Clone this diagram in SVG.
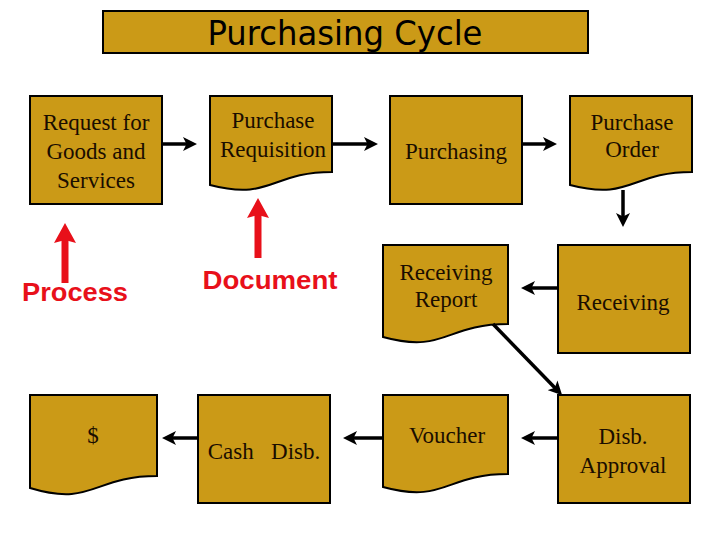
<svg xmlns="http://www.w3.org/2000/svg" width="720" height="540" viewBox="0 0 720 540">
<style>
.box{fill:#CB9A17;stroke:#000;stroke-width:2}
.t{font-family:"Liberation Serif","Times New Roman",serif;font-size:23px;fill:#1a0d00;text-anchor:middle}
.title{font-family:"DejaVu Sans Condensed","DejaVu Sans",sans-serif;font-size:33px;fill:#000;text-anchor:middle}
.red{font-family:"Liberation Sans",Arial,sans-serif;font-weight:bold;font-size:25px;fill:#E8101A;text-anchor:middle}
.con{stroke:#000;stroke-width:3.5;fill:none;marker-end:url(#ah)}
.rcon{stroke:#E8101A;stroke-width:7;fill:none;marker-end:url(#rh)}
</style>
<defs>
<marker id="ah" markerUnits="userSpaceOnUse" viewBox="0 0 14 14" refX="8" refY="7" markerWidth="14" markerHeight="14" orient="auto">
<path d="M0,0 L14,7 L0,14 L3.5,7 Z" fill="#000"/>
</marker>
<marker id="rh" markerUnits="userSpaceOnUse" viewBox="0 0 20 22" refX="6" refY="11" markerWidth="20" markerHeight="22" orient="auto">
<path d="M0,0 L20,11 L0,22 L3,11 Z" fill="#E8101A"/>
</marker>
</defs>
<rect width="720" height="540" fill="#fff"/>
<g id="title">
<rect class="box" x="103" y="11" width="485" height="42"/>
<text class="title" x="345" y="45" textLength="275" lengthAdjust="spacingAndGlyphs">Purchasing Cycle</text>
</g>
<g id="request">
<rect class="box" x="30" y="96" width="132" height="108"/>
<text class="t" x="96" y="130">Request for</text>
<text class="t" x="96" y="159">Goods and</text>
<text class="t" x="96" y="188">Services</text>
</g>
<g id="requisition">
<path class="box" d="M210,96 H332 V172 C271,172 271,201 210,185 Z"/>
<text class="t" x="273" y="128">Purchase</text>
<text class="t" x="273" y="157">Requisition</text>
</g>
<g id="purchasing">
<rect class="box" x="390" y="96" width="132" height="108"/>
<text class="t" x="456" y="159">Purchasing</text>
</g>
<g id="po">
<path class="box" d="M570,96 H692 V172 C631,172 631,201 570,185 Z"/>
<text class="t" x="632" y="130">Purchase</text>
<text class="t" x="632" y="157">Order</text>
</g>
<g id="process-label">
<text class="red" x="75" y="301" textLength="106" lengthAdjust="spacingAndGlyphs">Process</text>
</g>
<g id="document-label">
<text class="red" x="270" y="289" textLength="135" lengthAdjust="spacingAndGlyphs">Document</text>
</g>
<g id="rr">
<path class="box" d="M383,245 H508 V324 C445,324 445,354 383,337 Z"/>
<text class="t" x="446" y="280">Receiving</text>
<text class="t" x="446" y="307">Report</text>
</g>
<g id="receiving">
<rect class="box" x="558" y="245" width="132" height="108"/>
<text class="t" x="623" y="310">Receiving</text>
</g>
<g id="money">
<path class="box" d="M30,395 H157 V476 C93,476 93,507 30,488 Z"/>
<text class="t" x="93" y="443">$</text>
</g>
<g id="cash">
<rect class="box" x="198" y="395" width="132" height="108"/>
<text class="t" x="264" y="459" xml:space="preserve">Cash   Disb.</text>
</g>
<g id="voucher">
<path class="box" d="M383,395 H508 V474 C445,474 445,504 383,487 Z"/>
<text class="t" x="447" y="443">Voucher</text>
</g>
<g id="approval">
<rect class="box" x="558" y="395" width="132" height="108"/>
<text class="t" x="623" y="444">Disb.</text>
<text class="t" x="623" y="473">Approval</text>
</g>
<g id="connectors">
<line class="con" x1="162" y1="144" x2="191" y2="144"/>
<line class="con" x1="332" y1="144" x2="372" y2="144"/>
<line class="con" x1="522" y1="144" x2="551" y2="144"/>
<line class="con" x1="623" y1="190" x2="623" y2="221"/>
<line class="con" x1="558" y1="288" x2="527" y2="288"/>
<line class="con" x1="493" y1="324" x2="558" y2="391"/>
<line class="con" x1="558" y1="438" x2="527" y2="438"/>
<line class="con" x1="383" y1="438" x2="349" y2="438"/>
<line class="con" x1="198" y1="438" x2="168" y2="438"/>
<line class="rcon" x1="65" y1="283" x2="65" y2="237"/>
<line class="rcon" x1="258" y1="258" x2="258" y2="212"/>
</g>
</svg>
